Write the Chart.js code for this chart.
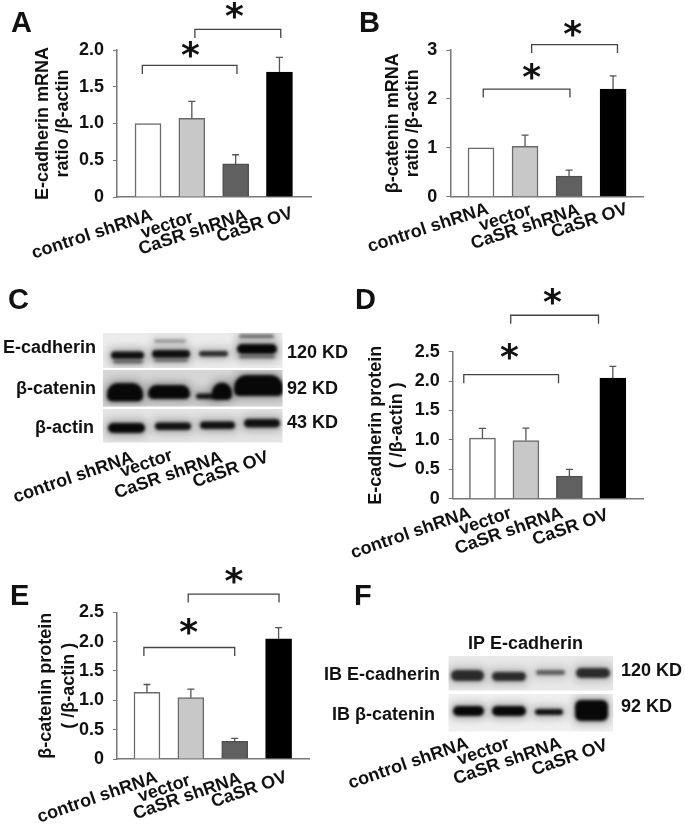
<!DOCTYPE html>
<html>
<head>
<meta charset="utf-8">
<title>CaSR figure</title>
<script src="https://cdn.jsdelivr.net/npm/chart.js@4/dist/chart.umd.min.js"></script>
<style>
  html, body { margin: 0; padding: 0; background: #fff; }
  #page { position: relative; width: 685px; height: 824px; overflow: hidden; }
  canvas { position: absolute; left: 0; top: 0; }
</style>
</head>
<body>
<div id="page">
  <canvas id="blots" width="685" height="824"></canvas>
  <canvas id="chartA"></canvas>
  <canvas id="chartB"></canvas>
  <canvas id="chartD"></canvas>
  <canvas id="chartE"></canvas>
</div>
<script>
// data
const categories = ['control shRNA', 'vector', 'CaSR shRNA', 'CaSR OV'];

const ecadMrna = [1.0, 1.07, 0.45, 1.7];
const ecadMrnaErr = [0, 0.23, 0.125, 0.2];
const ecadMrnaTicks = ['0', '0.5', '1.0', '1.5', '2.0'];

const bcatMrna = [1.0, 1.03, 0.42, 2.2];
const bcatMrnaErr = [0, 0.23, 0.125, 0.27];
const bcatMrnaTicks = ['0', '1', '2', '3'];

const ecadProtein = [1.03, 0.99, 0.385, 2.05];
const ecadProteinErr = [0.165, 0.21, 0.115, 0.2];
const ecadProteinTicks = ['0', '0.5', '1.0', '1.5', '2.0', '2.5'];

const bcatProtein = [1.135, 1.045, 0.3, 2.05];
const bcatProteinErr = [0.135, 0.145, 0.05, 0.19];
const bcatProteinTicks = ['0', '0.5', '1.0', '1.5', '2.0', '2.5'];

const barColors = ['#ffffff', '#c8c8c8', '#606060', '#000000'];
const barEdges = ['#6a6a6a', '#6a6a6a', '#505050', '#000000'];
const FONT = '"Liberation Sans", Arial, sans-serif';
const INK = '#111';

// error bars, significance brackets and slanted labels, placed with the chart scales
const marksPlugin = {
  id: 'marks',
  afterDraw(chart, args, o) {
    const c = chart.ctx, x = chart.scales.x, y = chart.scales.y;
    c.save();
    c.strokeStyle = '#555';
    c.lineWidth = 1.3;
    o.values.forEach((v, i) => {
      if (!o.errors[i]) return;
      const px = x.getPixelForValue(i), top = y.getPixelForValue(v + o.errors[i]);
      c.beginPath();
      c.moveTo(px, y.getPixelForValue(v));
      c.lineTo(px, top);
      c.moveTo(px - 3.5, top);
      c.lineTo(px + 3.5, top);
      c.stroke();
    });
    o.brackets.forEach(b => {
      const yy = y.getPixelForValue(b.y);
      c.strokeStyle = '#444';
      c.beginPath();
      c.moveTo(x.getPixelForValue(b.from), yy + 8.5);
      c.lineTo(x.getPixelForValue(b.from), yy);
      c.lineTo(x.getPixelForValue(b.to), yy);
      c.lineTo(x.getPixelForValue(b.to), yy + 8.5);
      c.stroke();
      c.fillStyle = INK;
      c.font = 'bold 36px "DejaVu Sans"';
      c.textAlign = 'center';
      c.textBaseline = 'middle';
      c.fillText('*', x.getPixelForValue(b.starX), y.getPixelForValue(b.starY) + 6);
    });
    c.fillStyle = INK;
    c.font = 'bold 18px ' + FONT;
    c.textAlign = 'right';
    c.textBaseline = 'middle';
    categories.forEach((name, i) => {
      c.save();
      c.translate(x.getPixelForValue(i) + o.labelDx[i], y.bottom + o.labelDy[i]);
      c.rotate(-o.slant * Math.PI / 180);
      c.fillText(name, 0, 0);
      c.restore();
    });
    c.restore();
  }
};

function barChart(id, p) {
  const canvas = document.getElementById(id);
  canvas.width = 685;
  canvas.height = 824;
  return new Chart(canvas, {
    type: 'bar',
    plugins: [marksPlugin],
    data: {
      datasets: [{
        data: p.values.map((v, i) => ({ x: i, y: v })),
        backgroundColor: barColors,
        borderColor: barEdges,
        borderWidth: 1.5,
        barThickness: 26
      }]
    },
    options: {
      responsive: false,
      animation: false,
      devicePixelRatio: 1,
      layout: { padding: { top: p.box.top, right: 685 - p.box.right, left: 0, bottom: 0 } },
      plugins: {
        legend: { display: false },
        tooltip: { enabled: false },
        marks: p
      },
      scales: {
        x: {
          type: 'linear',
          offset: false,
          min: p.xMin,
          max: p.xMax,
          afterFit: s => { s.height = 824 - p.box.bottom; },
          afterBuildTicks: s => { s.ticks = categories.map((c, i) => ({ value: i })); },
          ticks: { display: false },
          grid: { offset: false, drawOnChartArea: false, drawTicks: false },
          border: { color: '#777', width: 1.5 }
        },
        y: {
          min: 0,
          max: p.yMax,
          afterFit: s => { s.width = p.box.left; },
          ticks: {
            stepSize: p.yMax / (p.ticks.length - 1),
            padding: 9,
            color: INK,
            font: { family: FONT, weight: 'bold', size: 18 },
            callback: (v, i) => p.ticks[i]
          },
          grid: { drawOnChartArea: false, tickLength: 4, tickColor: '#777' },
          border: { color: '#777', width: 1.5 },
          title: {
            display: true,
            text: p.title,
            color: INK,
            font: { family: FONT, weight: 'bold', size: 18, lineHeight: p.titleGap / 18 },
            padding: { top: p.titlePad, bottom: 0 }
          }
        }
      }
    }
  });
}

barChart('chartA', {
  values: ecadMrna, errors: ecadMrnaErr, ticks: ecadMrnaTicks, yMax: 2,
  box: { left: 117, right: 311, top: 50, bottom: 197 }, xMin: -0.708, xMax: 3.72,
  title: ['E-cadherin mRNA', 'ratio /β-actin'], titleGap: 20, titlePad: 33,
  brackets: [
    { from: -0.13, to: 2.03, y: 1.79, starX: 0.97, starY: 1.98 },
    { from: 1.07, to: 3.03, y: 2.28, starX: 1.97, starY: 2.51 }
  ],
  labelDx: [4, 1, 11, 13], labelDy: [18, 20, 18, 16], slant: 18
});

barChart('chartB', {
  values: bcatMrna, errors: bcatMrnaErr, ticks: bcatMrnaTicks, yMax: 3,
  box: { left: 450.3, right: 643, top: 50, bottom: 196.7 }, xMin: -0.698, xMax: 3.68,
  title: ['β-catenin mRNA', 'ratio /β-actin'], titleGap: 20, titlePad: 383,
  brackets: [
    { from: 0.05, to: 2.02, y: 2.2, starX: 1.15, starY: 2.51 },
    { from: 1.15, to: 3.1, y: 3.11, starX: 2.08, starY: 3.4 }
  ],
  labelDx: [7, 6, 10, 14], labelDy: [12, 13, 13, 12], slant: 18
});

barChart('chartD', {
  values: ecadProtein, errors: ecadProteinErr, ticks: ecadProteinTicks, yMax: 2.5,
  box: { left: 452.7, right: 643.7, top: 351.7, bottom: 498.7 }, xMin: -0.685, xMax: 3.71,
  title: ['E-cadherin protein', '( /β-actin )'], titleGap: 20.5, titlePad: 366,
  brackets: [
    { from: -0.43, to: 1.75, y: 2.11, starX: 0.62, starY: 2.47 },
    { from: 0.65, to: 2.67, y: 3.12, starX: 1.61, starY: 3.4 }
  ],
  labelDx: [-12, -15, -7, -5], labelDy: [14, 14, 14, 16], slant: 19
});

barChart('chartE', {
  values: bcatProtein, errors: bcatProteinErr, ticks: bcatProteinTicks, yMax: 2.5,
  box: { left: 117, right: 309.3, top: 612.3, bottom: 759 }, xMin: -0.683, xMax: 3.70,
  title: ['β-catenin protein', '( /β-actin )'], titleGap: 23, titlePad: 35,
  brackets: [
    { from: -0.07, to: 2.0, y: 1.9, starX: 0.95, starY: 2.23 },
    { from: 0.94, to: 3.01, y: 2.81, starX: 1.98, starY: 3.09 }
  ],
  labelDx: [10, -1, 6, 8], labelDy: [18, 21, 19, 18], slant: 19
});

// blots are photographs, not data: painted as soft bands behind the charts
const b = document.getElementById('blots').getContext('2d');
b.fillStyle = '#fff';
b.fillRect(0, 0, 685, 824);

function strip(x0, x1, y0, y1, shade, bands) {
  b.save();
  b.beginPath();
  b.rect(x0, y0, x1 - x0, y1 - y0);
  b.clip();
  b.fillStyle = shade;
  b.fillRect(x0, y0, x1 - x0, y1 - y0);
  bands.forEach(([l, r, t, bot, a, dome]) => {
    const h = bot - t;
    const rad = dome ? [h * 0.6, h * 0.6, 5, 5] : Math.min(h / 2, 6);
    // wide faint halo first, then the band itself
    b.filter = 'blur(4px)';
    b.fillStyle = 'rgba(8,8,8,' + a * 0.3 + ')';
    b.beginPath();
    b.roundRect(l - 2, t - 3, r - l + 4, h + 6, rad);
    b.fill();
    b.filter = 'blur(1.5px)';
    b.fillStyle = 'rgba(8,8,8,' + a + ')';
    b.beginPath();
    b.roundRect(l, t, r - l, h, rad);
    b.fill();
  });
  b.restore();
}

// panel C
strip(102.7, 282.7, 332.7, 368, '#ececec', [
  [111, 144, 351.5, 359, 0.95], [113, 143, 360, 363.5, 0.5],
  [152, 190, 350, 358, 0.95], [154, 188, 359, 362, 0.45], [154, 186, 339.5, 342.5, 0.35],
  [199, 228, 351, 356.5, 0.8],
  [237, 277, 344, 354, 1], [239, 275, 355.5, 358, 0.6], [239, 274, 334.5, 338, 0.5]
]);
strip(102.7, 282.7, 370, 406.7, '#d6d6d6', [
  [107, 143, 383, 401.5, 1, true], [148, 190, 385, 399, 1, true],
  [196, 216, 393.5, 399, 0.9], [212, 232, 382.5, 400, 1, true],
  [234, 283, 375, 396, 1, true]
]);
strip(102.7, 282.7, 409, 442.7, '#e4e4e4', [
  [108, 145, 423, 433, 1], [155, 191, 422.5, 430, 0.95],
  [200, 235, 421.5, 429, 0.95], [244, 280, 419, 427.5, 0.95]
]);

// panel F
strip(448.3, 613.3, 656, 690.7, '#e8e8e8', [
  [451, 484, 670, 681, 0.8], [492, 526, 672, 681, 0.8],
  [536, 565, 670, 675, 0.55], [576, 610, 668, 678, 0.8]
]);
strip(448.3, 613.3, 694, 731.7, '#f0f0f0', [
  [453, 484, 706, 716, 1], [492, 526, 706, 716, 1],
  [535, 563, 709, 715, 0.95], [575, 608, 700, 721, 1]
]);

// panel letters and blot captions
function note(text, x, y, align, size, angle) {
  b.save();
  b.fillStyle = INK;
  b.font = 'bold ' + (size || 18) + 'px ' + FONT;
  b.textAlign = align || 'left';
  b.textBaseline = 'middle';
  b.translate(x, y);
  if (angle) b.rotate(-angle * Math.PI / 180);
  b.fillText(text, 0, 0);
  b.restore();
}

note('A', 11, 24, 'left', 29);
note('B', 359, 24, 'left', 29);
note('C', 8, 301, 'left', 29);
note('D', 355, 301, 'left', 29);
note('E', 10, 597, 'left', 29);
note('F', 354, 597, 'left', 29);

note('E-cadherin', 96, 348, 'right');
note('β-catenin', 96, 389, 'right');
note('β-actin', 94, 428, 'right');
note('120 KD', 287, 353);
note('92 KD', 287, 389);
note('43 KD', 287, 423);

note('IP E-cadherin', 468, 644);
note('IB E-cadherin', 440, 675, 'right');
note('IB β-catenin', 435, 715, 'right');
note('120 KD', 621, 671);
note('92 KD', 621, 707);

const blotLabelEndsC = [[133, 457], [172, 455], [222, 457], [268, 457]];
const blotLabelEndsF = [[468, 743], [509, 743], [561, 743], [607, 745]];
categories.forEach((name, i) => {
  note(name, blotLabelEndsC[i][0], blotLabelEndsC[i][1], 'right', 18, 19);
  note(name, blotLabelEndsF[i][0], blotLabelEndsF[i][1], 'right', 18, 19);
});
</script>
</body>
</html>
